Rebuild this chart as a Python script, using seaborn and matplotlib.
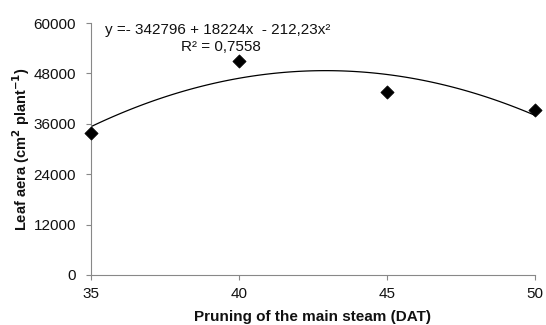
import matplotlib
matplotlib.use("Agg")
import matplotlib.pyplot as plt
import seaborn as sns
import pandas as pd

days = [35, 40, 45, 50]
leaf_area = [33900, 51000, 43600, 39400]
y_ticks = [0, 12000, 24000, 36000, 48000, 60000]
x_ticks = [35, 40, 45, 50]
equation = "y =- 342796 + 18224x  - 212,23x²"
r2_text = "R² = 0,7558"

df = pd.DataFrame({"days": days, "leaf": leaf_area})

sns.set_theme(style="white")
plt.rcParams['font.family'] = ['Liberation Sans', 'DejaVu Sans']

fig = plt.figure(figsize=(5.46, 3.25), dpi=100)
ax = fig.add_axes([0.166, 0.154, 0.814, 0.775])

sns.regplot(data=df, x="days", y="leaf", order=2, ci=None, truncate=True,
            scatter=False, line_kws=dict(color="black", lw=0.9), ax=ax)
sns.scatterplot(data=df, x="days", y="leaf", marker="D", color="black",
                s=45, edgecolor="black", ax=ax, zorder=5, clip_on=False)

ax.set_xlim(35, 50)
ax.set_ylim(0, 60000)
ax.set_xticks(x_ticks)
ax.set_yticks(y_ticks)
ax.tick_params(axis="both", labelsize=11, colors="#888888", labelcolor="#111111",
               direction="out", length=3.5, width=0.8, bottom=True, left=True)
ax.tick_params(axis="y", pad=7)
ax.tick_params(axis="x", pad=5.5)
for s in ["top", "right"]:
    ax.spines[s].set_visible(False)
for s in ["left", "bottom"]:
    ax.spines[s].set_color("#888888")
    ax.spines[s].set_linewidth(0.8)

ax.set_xlabel("Pruning of the main steam (DAT)", fontsize=11, fontweight="bold",
              labelpad=6.5, color="#111111")
ax.set_ylabel("Leaf aera (cm$^{\\mathbf{2}}$ plant$^{\\mathbf{-1}}$)", fontsize=10.5,
              fontweight="bold", labelpad=1, color="#111111")

ax.text(0.032, 0.972, equation, transform=ax.transAxes, fontsize=11, va="center",
        ha="left", color="#111111")
ax.text(0.293, 0.906, r2_text, transform=ax.transAxes, fontsize=11, va="center",
        ha="center", color="#111111")

fig.savefig("out.png", dpi=100)
